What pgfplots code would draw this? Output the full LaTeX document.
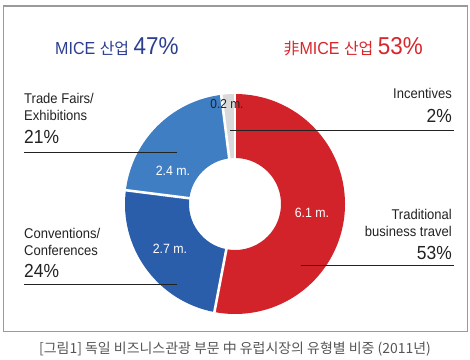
\documentclass[border=0pt]{standalone}
\usepackage{pgfplots}
\pgfplotsset{compat=1.18}
\usepackage{pgfplotstable}
\usepackage{fontspec}
\setmainfont[FakeStretch=0.92]{Liberation Sans}
\newfontfamily\kr{Noto Sans CJK KR}
\definecolor{cRed}{HTML}{D2232A}
\definecolor{cDark}{HTML}{2A5DAA}
\definecolor{cLight}{HTML}{3F7EC3}
\definecolor{cGray}{HTML}{D9D9D9}
\definecolor{tBlue}{HTML}{2B3E91}
\definecolor{tRed}{HTML}{D8262B}
\definecolor{txt}{HTML}{222222}
\definecolor{frame}{HTML}{9A9A9A}
\definecolor{cap}{HTML}{555555}

\pgfplotstableread{
name value mval
Traditional 53 6.1
Conventions 24 2.7
TradeFairs 21 2.4
Incentives 2 0.2
}\donutdata

\newcommand\cx{235}
\newcommand\cy{204}
\newcommand\Ro{110bp}
\newcommand\Ri{46bp}
\newcommand\slice[3]{%
  \fill[#3] ([shift={(#1:\Ro)}]axis cs:\cx,\cy) arc[start angle=#1,end angle=#2,radius=\Ro]
    -- ([shift={(#2:\Ri)}]axis cs:\cx,\cy) arc[start angle=#2,end angle=#1,radius=\Ri] -- cycle;}
\newcommand\sep[1]{%
  \draw[white,line width=2.6bp] ([shift={(#1:40bp)}]axis cs:\cx,\cy) -- ([shift={(#1:116bp)}]axis cs:\cx,\cy);}

\begin{document}
\begin{tikzpicture}
\pgfplotstablegetelem{0}{value}\of\donutdata\pgfmathsetmacro\aA{90-3.6*\pgfplotsretval}
\pgfplotstablegetelem{1}{value}\of\donutdata\pgfmathsetmacro\aB{\aA-3.6*\pgfplotsretval}
\pgfplotstablegetelem{2}{value}\of\donutdata\pgfmathsetmacro\aC{\aB-3.6*\pgfplotsretval}
\pgfplotstablegetelem{3}{value}\of\donutdata\pgfmathsetmacro\aD{\aC-3.6*\pgfplotsretval}
\begin{axis}[
  scale only axis, width=470bp, height=359bp,
  xmin=0, xmax=470, ymin=0, ymax=359, y dir=reverse,
  hide axis, clip=false]
\path (axis cs:0,0) rectangle (axis cs:470,359);
% frame
\draw[frame, line width=1.1bp] (axis cs:3.5,6) rectangle (axis cs:467.5,331.5);
% donut
\slice{90}{\aA}{cRed}
\slice{\aA}{\aB}{cDark}
\slice{\aB}{\aC}{cLight}
\slice{\aC}{\aD}{cGray}
\sep{90}\sep{\aA}\sep{\aB}\sep{\aC}
% leader lines
\draw[txt, line width=0.8bp] (axis cs:24,152) -- (axis cs:177,152);
\draw[txt, line width=0.8bp] (axis cs:24,284) -- (axis cs:177,284);
\draw[txt, line width=0.8bp] (axis cs:230,130) -- (axis cs:454,130);
\draw[txt, line width=0.8bp] (axis cs:301,265) -- (axis cs:454,265);
% titles
\node[anchor=base west, inner sep=0pt, text=tBlue] at (axis cs:55,54)
  {\fontsize{17.5}{18}\selectfont MICE {\kr\fontsize{16}{18}\selectfont 산업} \fontsize{24.5}{26}\selectfont 47\%};
\node[anchor=base east, inner sep=0pt, text=tRed] at (axis cs:423,54)
  {{\kr\fontsize{16}{18}\selectfont 非}\fontsize{17.5}{18}\selectfont MICE {\kr\fontsize{16}{18}\selectfont 산업} \fontsize{24.5}{26}\selectfont 53\%};
% category labels
\node[anchor=base west, inner sep=0pt, text=txt, align=left] at (axis cs:24,103)
  {\fontsize{14.2}{17}\selectfont Trade Fairs/};
\node[anchor=base west, inner sep=0pt, text=txt] at (axis cs:24,120)
  {\fontsize{14.2}{17}\selectfont Exhibitions};
\node[anchor=base west, inner sep=0pt, text=txt] at (axis cs:24,143)
  {\fontsize{19}{20}\selectfont 21\%};
\node[anchor=base west, inner sep=0pt, text=txt] at (axis cs:24,238)
  {\fontsize{14.2}{17}\selectfont Conventions/};
\node[anchor=base west, inner sep=0pt, text=txt] at (axis cs:24,255)
  {\fontsize{14.2}{17}\selectfont Conferences};
\node[anchor=base west, inner sep=0pt, text=txt] at (axis cs:24,277)
  {\fontsize{19}{20}\selectfont 24\%};
\node[anchor=base east, inner sep=0pt, text=txt] at (axis cs:452,98)
  {\fontsize{14.2}{17}\selectfont Incentives};
\node[anchor=base east, inner sep=0pt, text=txt] at (axis cs:452,122)
  {\fontsize{19}{20}\selectfont 2\%};
\node[anchor=base east, inner sep=0pt, text=txt] at (axis cs:452,219)
  {\fontsize{14.2}{17}\selectfont Traditional};
\node[anchor=base east, inner sep=0pt, text=txt] at (axis cs:452,236)
  {\fontsize{14.2}{17}\selectfont business travel};
\node[anchor=base east, inner sep=0pt, text=txt] at (axis cs:452,259)
  {\fontsize{19}{20}\selectfont 53\%};
% value labels
\node[text=white, inner sep=0pt] at (axis cs:173,171) {\fontsize{13.5}{14}\selectfont 2.4 m.};
\node[text=white, inner sep=0pt] at (axis cs:170,249) {\fontsize{13.5}{14}\selectfont 2.7 m.};
\node[text=white, inner sep=0pt] at (axis cs:312,213) {\fontsize{13.5}{14}\selectfont 6.1 m.};
\node[text=txt, inner sep=0pt] at (axis cs:227,104) {\fontsize{13}{14}\selectfont 0.2 m.};
% caption
\node[text=cap, inner sep=0pt] at (axis cs:235,349)
  {\kr\fontsize{14}{15}\selectfont [그림1] 독일 비즈니스관광 부문 中 유럽시장의 유형별 비중 (2011년)};
\end{axis}
\end{tikzpicture}
\end{document}
